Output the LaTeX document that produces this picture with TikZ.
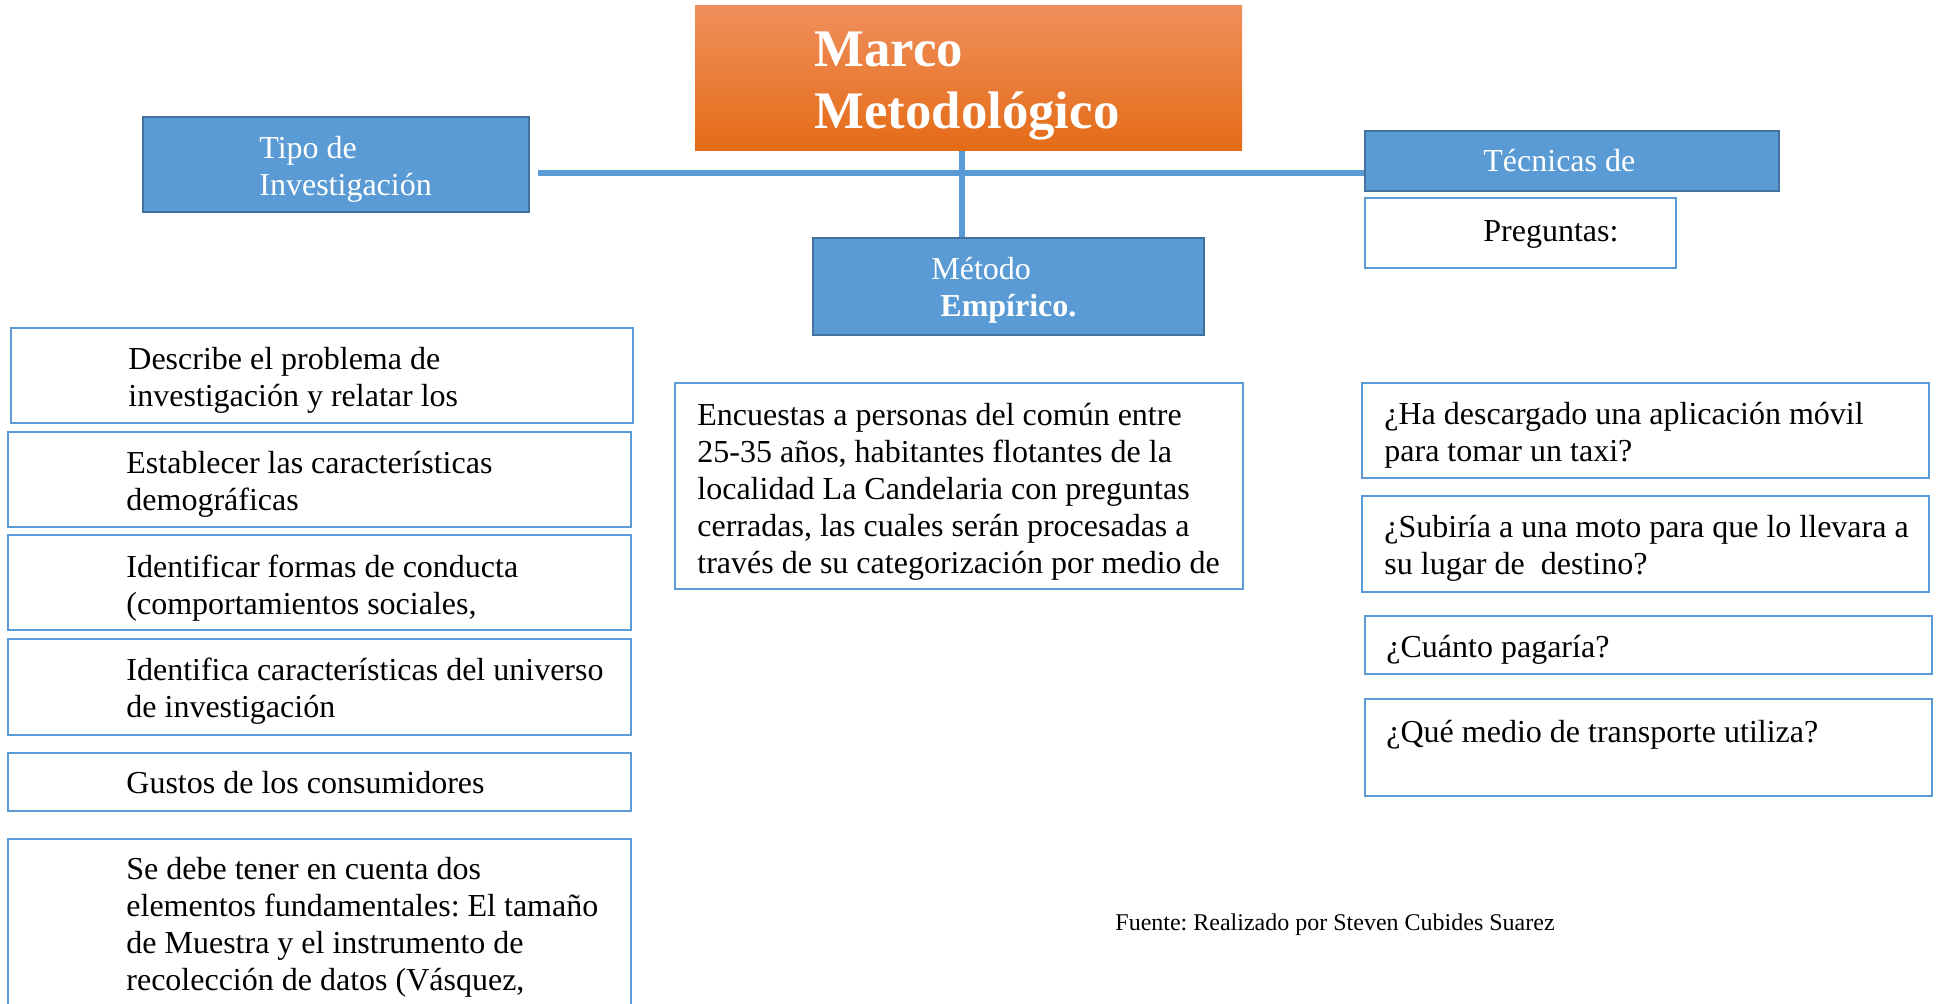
\documentclass[tikz,border=0pt]{standalone}
\usepackage{fontspec}
\setmainfont{Liberation Serif}
\usepackage{tikz}
\frenchspacing
\definecolor{mblue}{RGB}{91,155,213}
\definecolor{mbluedark}{RGB}{65,113,156}
\definecolor{morangetop}{RGB}{240,143,92}
\definecolor{morangemid}{RGB}{244,124,38}
\definecolor{morangebot}{RGB}{228,107,22}

\begin{document}
\begin{tikzpicture}[
    x=0.5pt, y=-0.5pt,
    every node/.style={font=\fontsize{16}{18.5}\selectfont},
    title/.style={top color=morangetop, middle color=morangemid, bottom color=morangebot, inner sep=0pt},
    topic/.style={draw=mbluedark, line width=1pt, fill=mblue, inner sep=0pt},
    item/.style={draw=mblue, line width=1.2pt, inner sep=0pt},
    txt/.style={anchor=west, align=left, inner sep=0pt},
    link/.style={mblue, line width=3pt}
  ]
    \clip (0,0) rectangle (1936,1004);
    \fill[white] (0,0) rectangle (1936,1004);

    % cabecera y ramas
    \node[title, minimum width=273.5pt, minimum height=72.5pt] (marco) at (968.5,78.5) {};
    \node[txt, text=white, font=\fontsize{26.4}{31}\selectfont\bfseries] (marcotxt) at (814,86) {Marco\\Metodológico};
    \node[topic, minimum width=193pt, minimum height=47.5pt] (tipo) at (336,164.5) {};
    \node[txt, text=white] (tipotxt) at (259,169.5) {Tipo de\\Investigación};
    \node[topic, minimum width=195.5pt, minimum height=48.5pt] (metodo) at (1008.5,286.5) {};
    \node[txt, text=white] (metodotxt) at (931,290.5) {Método\\\hspace*{4.5pt}\textbf{Empírico.}};
    \node[topic, minimum width=207pt, minimum height=30pt] (tecnicas) at (1572,161) {};
    \node[txt, text=white] (tecnicastxt) at (1483,161) {Técnicas de};
    \node[item, minimum width=155.5pt, minimum height=35pt] (preg) at (1520.5,233) {};
    \node[txt] (pregtxt) at (1483,234) {Preguntas:};

    \coordinate (lineL) at (538,173);
    \coordinate (hub) at (962,173);
    \draw[link] (lineL) -- (tecnicas.west |- lineL);
    \draw[link] (marco.south -| hub) -- (metodo.north -| hub);

    % tipo de investigacion
    \node[item, minimum width=311pt, minimum height=47.5pt] (desc) at (322,375.5) {};
    \node[txt] (desctxt) at (128,380.5) {Describe el problema de\\investigación y relatar los};
    \node[item, minimum width=311.5pt, minimum height=47.5pt] (estab) at (319.5,479.5) {};
    \node[txt] (estabtxt) at (126,484.5) {Establecer las características\\demográficas};
    \node[item, minimum width=311.5pt, minimum height=47.5pt] (conducta) at (319.5,582.5) {};
    \node[txt] (conductatxt) at (126,588) {Identificar formas de conducta\\(comportamientos sociales,};
    \node[item, minimum width=311.5pt, minimum height=48pt] (universo) at (319.5,687) {};
    \node[txt] (universotxt) at (126,691.5) {Identifica características del universo\\de investigación};
    \node[item, minimum width=311.5pt, minimum height=29pt] (gustos) at (319.5,782) {};
    \node[txt] (gustostxt) at (126,783) {Gustos de los consumidores};
    \node[item, minimum width=311.5pt, minimum height=95.5pt] (muestra) at (319.5,934.5) {};
    \node[txt] (muestratxt) at (126,927.5) {Se debe tener en cuenta dos\\elementos fundamentales: El tamaño\\de Muestra y el instrumento de\\recolección de datos (Vásquez,};

    % metodo
    \node[item, minimum width=284pt, minimum height=103pt] (encuesta) at (959,486) {};
    \node[txt] (encuestatxt) at (697,491.5) {Encuestas a personas del común entre\\25-35 años, habitantes flotantes de la\\localidad La Candelaria con preguntas\\cerradas, las cuales serán procesadas a\\través de su categorización por medio de};

    % preguntas
    \node[item, minimum width=283.5pt, minimum height=47.5pt] (q1) at (1645.5,430.5) {};
    \node[txt] (q1txt) at (1384,435) {¿Ha descargado una aplicación móvil\\para tomar un taxi?};
    \node[item, minimum width=283.5pt, minimum height=48pt] (q2) at (1645.5,544) {};
    \node[txt] (q2txt) at (1384,548.5) {¿Subiría a una moto para que lo llevara a\\su lugar de\ \ destino?};
    \node[item, minimum width=283.5pt, minimum height=29pt] (q3) at (1648.5,645) {};
    \node[txt] (q3txt) at (1386,650) {¿Cuánto pagaría?};
    \node[item, minimum width=283.5pt, minimum height=48.5pt] (q4) at (1648.5,747.5) {};
    \node[txt] (q4txt) at (1386,735) {¿Qué medio de transporte utiliza?};

    \node[txt, font=\fontsize{12}{14}\selectfont] (fuente) at (1115,925) {Fuente: Realizado por Steven Cubides Suarez};
\end{tikzpicture}
\end{document}
